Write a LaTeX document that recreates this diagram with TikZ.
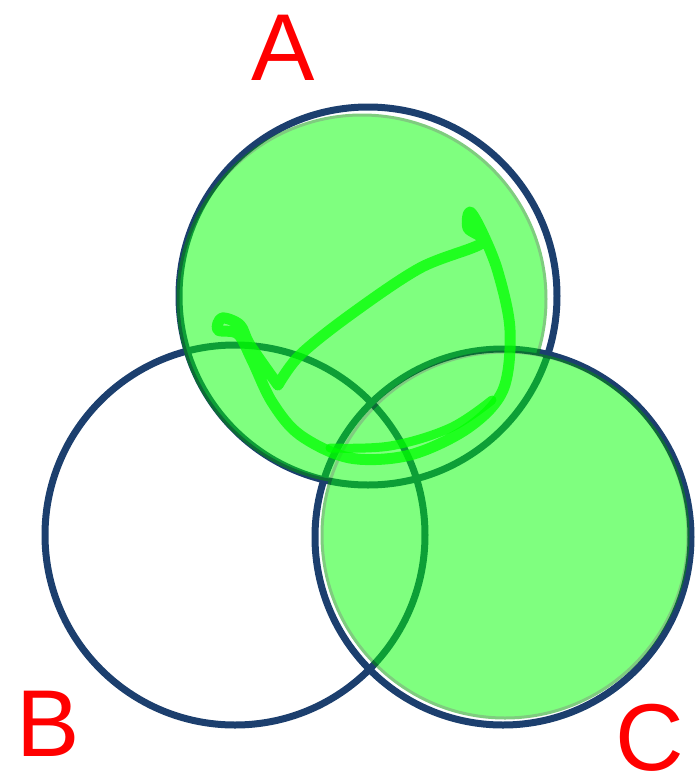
\documentclass[tikz,border=0pt]{standalone}
\usepackage{fontspec}
\newfontfamily\handfont{Liberation Sans}
\definecolor{setblue}{RGB}{28,63,110}
\definecolor{marker}{RGB}{0,255,0}

\begin{document}
\begin{tikzpicture}[x=1pt, y=-1pt,
                setline/.style={circle, draw=setblue, line width=7pt, inner sep=0pt},
                shade/.style={circle, fill=marker, draw=marker!60!black, line width=3pt, inner sep=0pt},
                scribble/.style={draw=marker, line width=11pt, opacity=0.75, line cap=round, line join=round},
                setlabel/.style={text=red, font=\handfont\fontsize{95}{95}\selectfont, inner sep=0pt}
            ]
                \useasboundingbox (0,0) rectangle (695,780);
                % the three sets
                \node[setline, minimum size=378pt] (circA) at (368,296) {};
                \node[setline, minimum size=380pt] (circB) at (235,535) {};
                \node[setline, minimum size=376pt] (circC) at (503,537) {};
                % highlighted sets A and C
                \begin{scope}[transparency group, opacity=0.5]
                    \node[shade, minimum size=368pt] (fillA) at (362,299) {};
                    \node[shade, minimum size=366pt] (fillC) at (505,535) {};
                \end{scope}
                % marker stroke inside A
                \draw[scribble] plot[smooth, tension=0.55] coordinates {(278,385) (250,345) (240,325) (222,318) (218,330) (238,334) (252,360) (272,402) (300,435) (350,458) (410,455) (468,428) (503,390) (510,330) (498,272) (482,232) (470,212) (468,228) (482,243) (420,268) (350,315) (300,355) (278,385)};
                \draw[scribble, line width=9pt] plot[smooth, tension=0.6] coordinates {(330,448) (390,446) (450,428) (492,400)};
                \node[setlabel] (labA) at (283,48) {A};
                \node[setlabel] (labB) at (48,724) {B};
                \node[setlabel] (labC) at (650,738) {C};
            \end{tikzpicture}
\end{document}
